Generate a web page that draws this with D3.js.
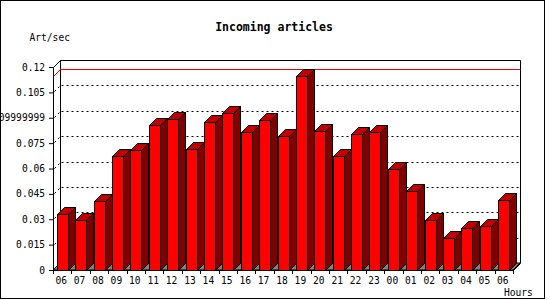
<!DOCTYPE html>
<html>
<head>
<meta charset="utf-8">
<script src="https://cdn.jsdelivr.net/npm/d3@7/dist/d3.min.js"></script>
<style>
  html, body { margin: 0; padding: 0; background: #fff; }
  svg { display: block; }
  text { font-family: "DejaVu Sans Mono", "Liberation Mono", monospace; fill: #000; }
</style>
</head>
<body>
<svg id="chart" width="550" height="300"></svg>
<script>
// ---- data ----
const hours = ["06","07","08","09","10","11","12","13","14","15","16","17","18","19","20","21","22","23","00","01","02","03","04","05","06"];
const values = [0.0331,0.0295,0.0407,0.0671,0.0708,0.0860,0.0891,0.0714,0.0874,0.0927,0.0815,0.0885,0.0791,0.1145,0.0820,0.0673,0.0803,0.0815,0.0600,0.0465,0.0293,0.0189,0.0246,0.0258,0.0411];
const yTicks = [0,0.015,0.03,0.045,0.06,0.075,0.09,0.105,0.12];
const yTickLabels = ["0","0.015","0.03","0.045","0.06","0.075","0.09999999","0.105","0.12"];
const titleText = "Incoming articles";
const yLabel = "Art/sec";
const xLabel = "Hours";

// ---- layout ----
const svg = d3.select("#chart");
const D = 7; // 3D depth
const x = d3.scaleBand().domain(d3.range(hours.length)).range([53, 513]).paddingInner(0).paddingOuter(0);
const y = d3.scaleLinear().domain([0, 0.12]).range([270, 67]);
const barW = 11;
const x0 = 53, x1 = 513, yb = y(0), yt = y(0.12);

// outer border
svg.append("rect").attr("x",0.5).attr("y",0.5).attr("width",544).attr("height",298)
  .attr("fill","#fff").attr("stroke","#000");

// title & labels
svg.append("text").attr("x",274).attr("y",31).attr("text-anchor","middle")
  .style("font-size","11.5px").style("font-weight","bold").text(titleText);
svg.append("text").attr("x",29.5).attr("y",41).style("font-size","9.6px").text(yLabel);
svg.append("text").attr("x",504).attr("y",296).style("font-size","9.6px").text(xLabel);

// floor
svg.append("path")
  .attr("d", `M${x0},${yb}L${x0+D},${yb-D}L${x1+D},${yb-D}L${x1},${yb}Z`)
  .attr("fill","#808080").attr("stroke","#000").attr("stroke-width",1);

// back wall frame
const g = svg.append("g").attr("transform","translate(0.5,0.5)");
g.append("path")
  .attr("d", `M${x0+D},${yb-D}L${x0+D},${yt-D}L${x1+D},${yt-D}L${x1+D},${yb-D}`)
  .attr("fill","none").attr("stroke","#000");
g.append("line").attr("x1",x0).attr("y1",yt).attr("x2",x0+D).attr("y2",yt-D).attr("stroke","#000");
g.append("line").attr("x1",x1).attr("y1",yb).attr("x2",x1+D).attr("y2",yb-D).attr("stroke","#000");

// grid lines (dotted) on back wall + diagonal
yTicks.slice(1, -1).forEach(t => {
  const yy = Math.round(y(t));
  g.append("line").attr("x1",x0+D+1).attr("x2",x1+D).attr("y1",yy-D).attr("y2",yy-D)
    .attr("stroke","#000").attr("stroke-dasharray","2,3");
  g.append("line").attr("x1",x0+1).attr("x2",x0+D).attr("y1",yy-1).attr("y2",yy-D)
    .attr("stroke","#000").attr("stroke-dasharray","2,3");
});

// max line (red)
const maxV = d3.max(values);
const ym = Math.round(y(maxV));
g.append("line").attr("x1",x0+D).attr("x2",x1+D).attr("y1",ym-D).attr("y2",ym-D).attr("stroke","#f00");
g.append("line").attr("x1",x0).attr("x2",x0+D).attr("y1",ym).attr("y2",ym-D).attr("stroke","#f00");

// bars
const bars = svg.append("g").selectAll("g").data(values).join("g");
bars.each(function(v, i) {
  const gb = d3.select(this);
  const bx = Math.round(x(i) + (x.bandwidth() - barW) / 2) + 0.5;
  const top = Math.round(y(v)) + 0.5;
  const bot = yb + 0.5;
  gb.append("path")
    .attr("d", `M${bx+barW},${top}L${bx+barW+D},${top-D}L${bx+barW+D},${bot-D}L${bx+barW},${bot}Z`)
    .attr("fill","#800000").attr("stroke","#000");
  gb.append("path")
    .attr("d", `M${bx},${top}L${bx+D},${top-D}L${bx+barW+D},${top-D}L${bx+barW},${top}Z`)
    .attr("fill","#c00000").attr("stroke","#000");
  gb.append("rect").attr("x",bx).attr("y",top).attr("width",barW).attr("height",bot-top)
    .attr("fill","#ff0000").attr("stroke","#000");
});

// axes
const yAxis = d3.axisLeft(y).tickValues(yTicks).tickFormat((d,i) => yTickLabels[i])
  .tickSize(4).tickSizeOuter(0).tickPadding(4);
const ya = svg.append("g").attr("transform",`translate(${x0},0)`).call(yAxis);
ya.selectAll("text").style("font-size","9.6px").style("font-family",'"DejaVu Sans Mono", monospace');

const xAxis = d3.axisBottom(x).tickFormat(i => hours[i]).tickSize(0).tickPadding(7).tickSizeOuter(0);
const xa = svg.append("g").attr("transform",`translate(0,${yb})`).call(xAxis);
xa.selectAll("text").style("font-size","9.6px").style("font-family",'"DejaVu Sans Mono", monospace')
  .attr("dx", -1);
// boundary tick marks below the x axis
const bounds = d3.range(hours.length + 1).map(i => i < hours.length ? x(i) : x1);
xa.selectAll(".bound").data(bounds).join("line").attr("class","bound")
  .attr("x1", d => Math.round(d) + 0.5).attr("x2", d => Math.round(d) + 0.5)
  .attr("y1", 0).attr("y2", 4).attr("stroke","#000");
svg.selectAll(".domain").attr("stroke","#000");
svg.selectAll(".tick line").attr("stroke","#000");
</script>
</body>
</html>
